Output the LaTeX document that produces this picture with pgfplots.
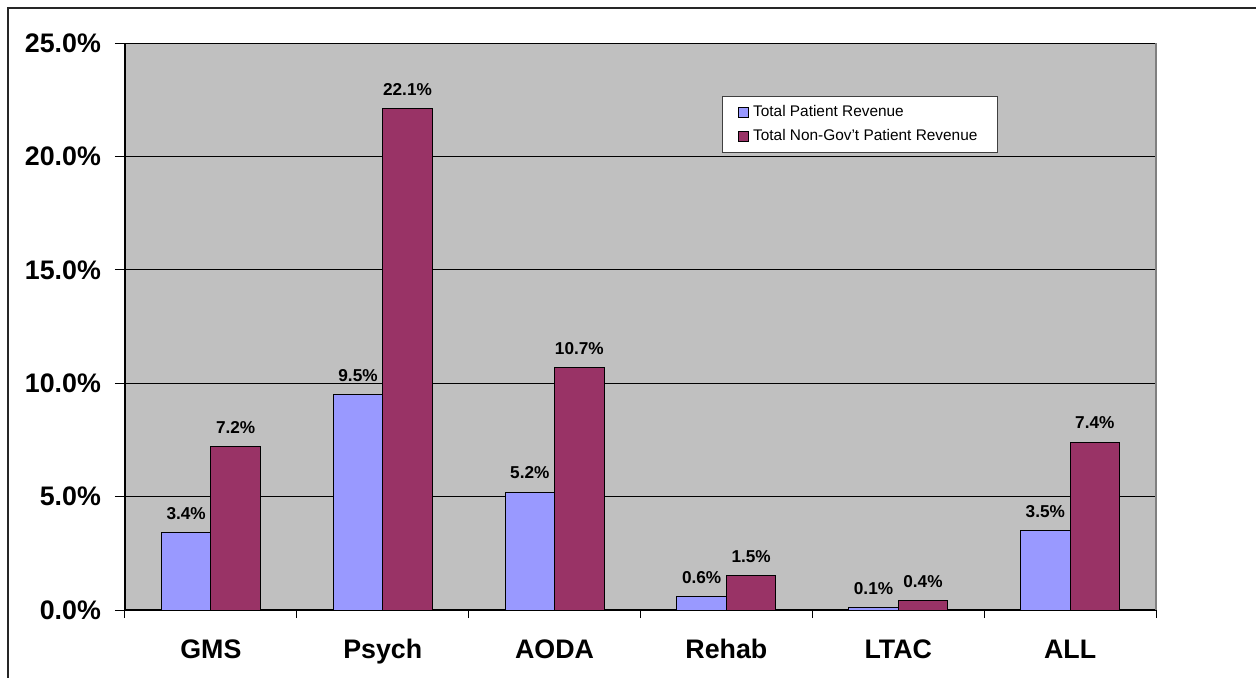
\documentclass[border=0pt]{standalone}
\usepackage{pgfplots}
\pgfplotsset{compat=1.18}
\usepackage{fontspec}
\setmainfont{Liberation Sans}
\definecolor{plotgray}{RGB}{192,192,192}
\definecolor{serblue}{RGB}{153,153,255}
\definecolor{sermaroon}{RGB}{153,51,102}
\begin{document}
\begin{tikzpicture}
\begin{axis}[
  at={(0,0)}, anchor=south west,
  scale only axis,
  width=515.5pt, height=283.5pt,
  xmin=-0.5, xmax=5.5,
  ymin=0, ymax=25,
  axis background/.style={fill=plotgray},
  axis x line*=bottom, axis y line*=left,
  axis line style={-, black, line width=0.6pt},
  ybar=0pt, bar width=0.288,
  xtick={0,1,2,3,4,5},
  xticklabels={GMS,Psych,AODA,Rehab,LTAC,ALL},
  major x tick style={draw=none},
  minor xtick={-0.5,0.5,1.5,2.5,3.5,4.5,5.5},
  minor x tick style={black, line width=0.5pt},
  minor tick length=4pt,
  ytick={0,5,10,15,20,25},
  major tick length=5pt,
  tick align=outside,
  ytick style={black, line width=0.5pt},
  ymajorgrids,
  grid style={black, line width=0.5pt},
  /pgf/number format/assume math mode=true,
  yticklabel={\pgfmathprintnumber[fixed,fixed zerofill,precision=1]{\tick}\%},
  ticklabel style={font=\fontsize{13.4}{15}\selectfont\bfseries},
  xticklabel style={anchor=base, yshift=-19pt},
  yticklabel style={xshift=-3.5pt},
  nodes near coords={\pgfmathprintnumber[fixed,fixed zerofill,precision=1,assume math mode=true]{\pgfplotspointmeta}\%},
  nodes near coords style={font=\fontsize{8.6}{10}\selectfont\bfseries, yshift=3pt},
  legend style={at={(0.579,0.9065)}, anchor=north west, draw=black!75, fill=white,
    font=\fontsize{7.7}{9}\selectfont, inner xsep=8pt, inner ysep=2.5pt,
    row sep=1pt, cells={anchor=west}},
  legend image code/.code={\draw[#1, draw=black, line width=0.4pt] (0pt,-2.5pt) rectangle (5pt,2.5pt);},
  clip=false,
]
\addplot[fill=serblue, draw=black, line width=0.5pt] coordinates {(0,3.4) (1,9.5) (2,5.2) (3,0.6) (4,0.1) (5,3.5)};
\addplot[fill=sermaroon, draw=black, line width=0.5pt] coordinates {(0,7.2) (1,22.1) (2,10.7) (3,1.5) (4,0.4) (5,7.4)};
\legend{Total Patient Revenue, Total Non-Gov't Patient Revenue}
\draw[gray, line width=0.6pt] (rel axis cs:1,0) -- (rel axis cs:1,1);
\end{axis}
\path[use as bounding box] (-62.5pt,-33.5pt) rectangle (565.5pt,305pt);
\draw[black!85, line width=0.75pt] (-58.5pt,-34pt) -- (-58.5pt,301pt) -- (566pt,301pt);
\end{tikzpicture}
\end{document}
